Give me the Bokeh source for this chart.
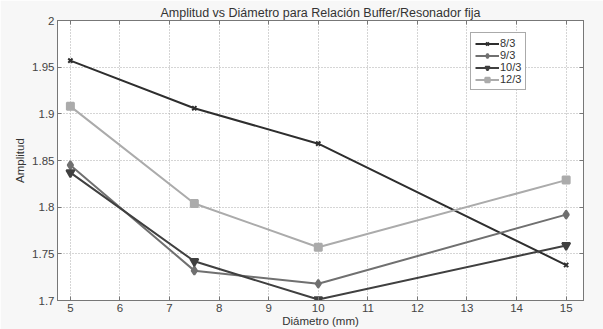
from bokeh.plotting import figure
from bokeh.embed import file_html
from bokeh.resources import INLINE
from bokeh.models import LinearAxis, FixedTicker, Range1d, Legend, LegendItem

x_diam = [5, 7.5, 10, 15]
s_83 = [1.957, 1.906, 1.868, 1.738]
s_93 = [1.845, 1.732, 1.718, 1.792]
s_103 = [1.837, 1.742, 1.701, 1.759]
s_123 = [1.908, 1.804, 1.757, 1.829]
labels = ["8/3", "9/3", "10/3", "12/3"]
xticks = list(range(5, 16))
yticks = [1.7, 1.75, 1.8, 1.85, 1.9, 1.95, 2.0]

FONT = "Liberation Sans"
p = figure(width=603, height=329, output_backend="svg", toolbar_location=None,
           x_range=Range1d(4.74, 15.35), y_range=Range1d(1.7, 2.0),
           min_border_left=57, min_border_right=20, min_border_top=20, min_border_bottom=27)
p.title.text = "Amplitud vs Diámetro para Relación Buffer/Resonador fija"
p.title.align = "center"
p.title.text_font = FONT
p.title.text_font_size = "12.5px"
p.title.text_font_style = "normal"
p.title.text_color = "#333333"
p.title.offset = 0
p.title.standoff = 2
p.background_fill_color = "white"
p.border_fill_color = "#f7f7f7"
p.outline_line_color = "#777777"

for ax in (p.xaxis[0], p.yaxis[0]):
    ax.major_tick_in = 4
    ax.major_tick_out = 0
    ax.minor_tick_in = 0
    ax.minor_tick_out = 0
    ax.axis_line_color = "#777777"
    ax.major_tick_line_color = "#777777"
    ax.major_label_text_font = FONT
    ax.major_label_text_font_size = "11.5px"
    ax.major_label_text_color = "#444444"
    ax.axis_label_text_font = FONT
    ax.axis_label_text_font_size = "11.5px"
    ax.axis_label_text_font_style = "normal"
    ax.axis_label_text_color = "#333333"
p.xaxis[0].ticker = FixedTicker(ticks=xticks)
p.yaxis[0].ticker = FixedTicker(ticks=yticks)
p.yaxis[0].major_label_overrides = {2.0: "2", 1.8: "1.8", 1.9: "1.9", 1.7: "1.7"}
p.xaxis[0].axis_label = "Diámetro (mm)"
p.yaxis[0].axis_label = "Amplitud"
p.xaxis[0].major_label_standoff = 3
p.yaxis[0].major_label_standoff = 3
p.xaxis[0].axis_label_standoff = 0
p.yaxis[0].axis_label_standoff = 3

for side, tk in (("above", xticks), ("right", yticks)):
    ax = LinearAxis(ticker=FixedTicker(ticks=tk), major_label_text_color=None,
                    major_tick_in=4, major_tick_out=0, minor_tick_in=0, minor_tick_out=0,
                    axis_line_color="#777777", major_tick_line_color="#777777",
                    major_label_standoff=0)
    p.add_layout(ax, side)

p.xgrid.ticker = FixedTicker(ticks=xticks)
p.ygrid.ticker = FixedTicker(ticks=yticks)
p.grid.grid_line_color = "#aaaaaa"
p.grid.grid_line_dash = "1 2"
p.grid.grid_line_width = 1

series = [s_83, s_93, s_103, s_123]
colors = ["#2e2e2e", "#707070", "#404040", "#ababab"]
markers = ["x", "diamond", "inverted_triangle", "square"]
sizes = [6, 8, 8, 7]
items = []
for lab, ys, c, m, sz in zip(labels, series, colors, markers, sizes):
    l = p.line(x_diam, ys, line_color=c, line_width=2)
    mk = p.scatter(x_diam, ys, marker=m, size=sz, line_color=c, fill_color=c, line_width=2)
    items.append(LegendItem(label=lab, renderers=[l, mk]))

leg = Legend(items=items, location=(413, 210))
leg.label_text_font = FONT
leg.label_text_font_size = "11px"
leg.label_text_color = "#333333"
leg.glyph_width = 24
leg.glyph_height = 11
leg.label_height = 11
leg.spacing = 0
leg.padding = 4
leg.margin = 0
leg.label_standoff = 1
leg.border_line_color = "#555555"
leg.background_fill_color = "white"
p.add_layout(leg, "center")

open("out.html", "w").write(file_html(p, INLINE))
